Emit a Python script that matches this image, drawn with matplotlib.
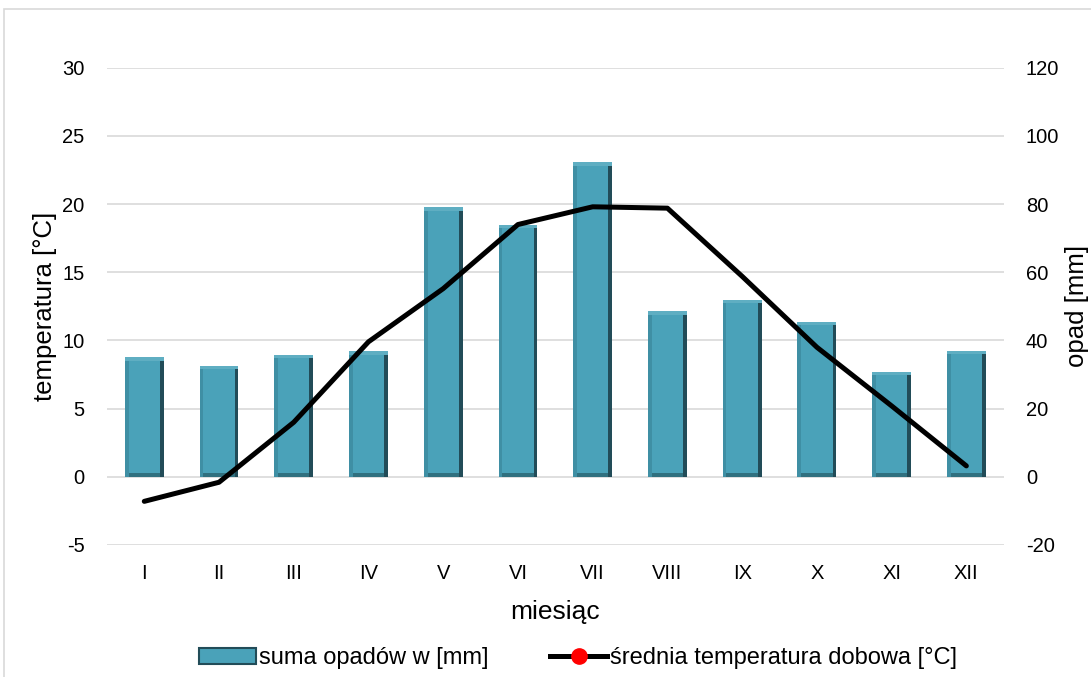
import matplotlib.pyplot as plt
from matplotlib.lines import Line2D
from matplotlib.patches import Patch, Rectangle

plt.rcParams['font.family'] = ['Liberation Sans', 'DejaVu Sans']

months = ['I', 'II', 'III', 'IV', 'V', 'VI', 'VII', 'VIII', 'IX', 'X', 'XI', 'XII']
opad = [35, 32.5, 35.8, 36.8, 79, 74, 92.2, 48.6, 52, 45.5, 30.8, 37]
temp = [-1.8, -0.4, 4.0, 9.9, 13.8, 18.5, 19.8, 19.7, 14.7, 9.5, 5.2, 0.8]

x = list(range(len(months)))
w = 0.52      # szerokość słupka
bx = 0.05     # szerokość fazy (x)
by = 1.0      # wysokość fazy (mm)

fig = plt.figure(figsize=(10.91, 6.77), dpi=100)
ax = fig.add_axes([0.098, 0.195, 0.822, 0.705])
ax2 = ax.twinx()

# słupki z efektem "bevel"
ax2.bar(x, opad, width=w, color='#5FAEC2', zorder=2)
ax2.bar([i - w / 2 + bx / 2 for i in x], [v - by for v in opad], width=bx,
        color='#3F8FA4', zorder=3)
ax2.bar([i + w / 2 - bx / 2 for i in x], [v - by for v in opad], width=bx,
        color='#224C58', zorder=3)
ax2.bar(x, by, width=w - 2 * bx, color='#30707F', zorder=3)
ax2.bar(x, [v - 2 * by for v in opad], bottom=by, width=w - 2 * bx,
        color='#4AA2B9', zorder=4)

ax.plot(x, temp, color='black', lw=3.6, zorder=5, solid_capstyle='round')
ax.set_zorder(ax2.get_zorder() + 1)
ax.patch.set_visible(False)

ax.set_xlim(-0.5, 11.5)
ax.set_ylim(-5, 30)
ax2.set_ylim(-20, 120)
yt = list(range(-5, 31, 5))
yt2 = list(range(-20, 121, 20))
ax.set_yticks(yt)
ax.set_yticklabels([str(t) for t in yt])
ax2.set_yticks(yt2)
ax2.set_yticklabels([str(t) for t in yt2])
ax.set_xticks(x)
ax.set_xticklabels(months)

ax2.grid(axis='y', color='#D9D9D9', lw=1.2, zorder=0)
ax2.set_axisbelow(True)
for a in (ax, ax2):
    for s in a.spines.values():
        s.set_visible(False)
    a.tick_params(length=0, labelsize=14.5, colors='black')
ax.tick_params(axis='y', pad=16)
ax2.tick_params(axis='y', pad=16)
ax.tick_params(axis='x', pad=14)

ax.set_ylabel('temperatura [°C]', fontsize=18.5, labelpad=4)
ax2.set_ylabel('opad [mm]', fontsize=18.5, labelpad=4)
ax.set_xlabel('miesiąc', fontsize=19, labelpad=12)

handles = [Patch(facecolor='#4AA2B9', edgecolor='#224C58', lw=1.5),
           Line2D([0], [0], color='black', lw=3.6, marker='o', markersize=11,
                  markerfacecolor='red', markeredgecolor='red')]
fig.legend(handles, ['suma opadów w [mm]', 'średnia temperatura dobowa [°C]'],
           loc='lower center', bbox_to_anchor=(0.53, -0.02), ncol=2, frameon=False,
           fontsize=17, handlelength=2.4, handletextpad=0.15, columnspacing=2.6)

fig.patches.append(Rectangle((0.004, -0.1), 1.2, 1.087, transform=fig.transFigure,
                             fill=False, edgecolor='#D9D9D9', lw=1.2))

fig.savefig('out.png', dpi=100)
